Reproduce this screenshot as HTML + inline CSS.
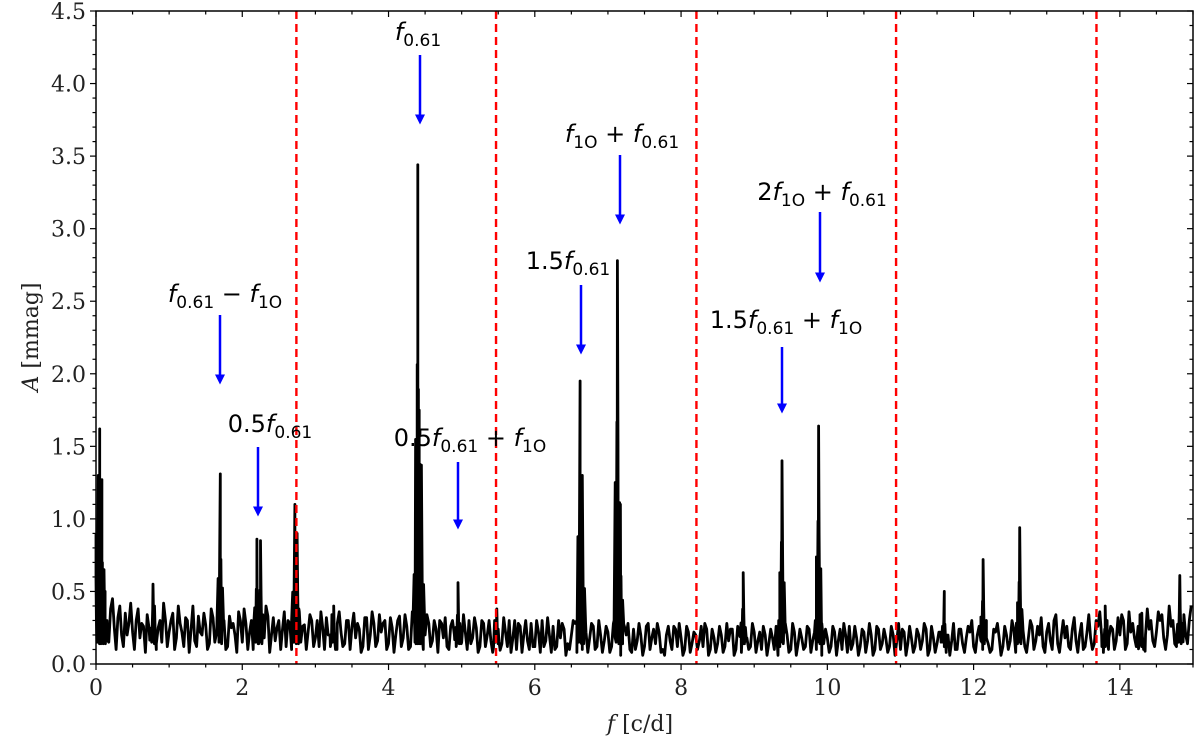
<!DOCTYPE html>
<html><head><meta charset="utf-8"><style>
body{margin:0;background:#fff;}
svg text{font-family:"DejaVu Serif","Liberation Serif",serif;}
.ann{font-family:"DejaVu Sans","Liberation Sans",sans-serif;font-size:24px;fill:#000;}
</style></head><body>
<svg id="chart" width="1200" height="739" viewBox="0 0 1200 739" xmlns="http://www.w3.org/2000/svg" style="position:absolute;left:0;top:0">
<g id="plot"></g>
</svg>
<script>
const noiseStart = 0.0;
const noiseStep = 0.05;
const noiseAmp = [0.9,0.55,0.45,0.3,0.38,0.25,0.32,0.2,0.35,0.28,0.22,0.3,0.18,0.26,0.34,0.2,0.4,0.25,0.15,0.3,
0.22,0.35,0.18,0.28,0.12,0.3,0.24,0.16,0.33,0.2,0.27,0.14,0.32,0.22,0.18,0.3,0.12,0.25,0.2,0.36,
0.15,0.28,0.22,0.1,0.3,0.26,0.18,0.33,0.2,0.16,0.3,0.24,0.12,0.28,0.34,0.2,0.15,0.27,0.22,0.3,
0.18,0.12,0.25,0.32,0.2,0.16,0.28,0.22,0.14,0.3,0.26,0.18,0.24,0.12,0.32,0.2,0.28,0.16,0.22,0.3,
0.14,0.25,0.2,0.33,0.18,0.26,0.12,0.3,0.22,0.4,0.2,0.28,0.16,0.24,0.3,0.18,0.12,0.26,0.2,0.32,
0.15,0.22,0.3,0.18,0.25,0.12,0.28,0.2,0.16,0.3,0.24,0.14,0.22,0.3,0.18,0.1,0.26,0.2,0.16,0.28,
0.12,0.22,0.3,0.16,0.2,0.26,0.12,0.18,0.24,0.14,0.2,0.28,0.16,0.1,0.22,0.18,0.26,0.12,0.2,0.16,
0.22,0.12,0.18,0.26,0.14,0.2,0.1,0.24,0.16,0.2,0.12,0.28,0.18,0.14,0.22,0.1,0.2,0.16,0.26,0.12,
0.18,0.1,0.22,0.14,0.2,0.16,0.12,0.24,0.1,0.18,0.14,0.2,0.12,0.16,0.24,0.1,0.2,0.14,0.18,0.12,
0.22,0.16,0.1,0.2,0.14,0.18,0.26,0.12,0.16,0.2,0.1,0.22,0.14,0.18,0.12,0.24,0.16,0.1,0.2,0.14,
0.18,0.12,0.22,0.16,0.1,0.2,0.26,0.14,0.18,0.12,0.22,0.16,0.2,0.1,0.24,0.14,0.18,0.12,0.2,0.16,
0.1,0.22,0.14,0.18,0.12,0.2,0.16,0.24,0.1,0.18,0.14,0.22,0.12,0.2,0.16,0.1,0.24,0.14,0.18,0.22,
0.12,0.2,0.16,0.26,0.14,0.1,0.22,0.18,0.12,0.2,0.16,0.24,0.14,0.2,0.12,0.18,0.26,0.16,0.2,0.12,
0.22,0.16,0.3,0.14,0.2,0.18,0.12,0.24,0.16,0.2,0.1,0.22,0.18,0.14,0.26,0.2,0.12,0.18,0.24,0.16,
0.2,0.3,0.14,0.22,0.18,0.26,0.12,0.2,0.24,0.16,0.22,0.3,0.18,0.2,0.26,0.14,0.22,0.28,0.2,0.3];
const noiseStart2 = 0.025;
const noiseAmp2 = [0.7,0.3,0.5,0.15,0.45,0.1,0.4,0.12,0.2,0.42,0.1,0.38,0.28,0.08,0.25,0.38,0.1,0.3,0.42,0.12,
0.3,0.1,0.4,0.22,0.32,0.08,0.4,0.12,0.22,0.35,0.1,0.38,0.15,0.3,0.4,0.1,0.33,0.28,0.08,0.3,
0.38,0.1,0.3,0.36,0.14,0.2,0.4,0.08,0.32,0.25,0.1,0.36,0.3,0.1,0.2,0.38,0.26,0.1,0.34,0.12,
0.3,0.36,0.1,0.2,0.34,0.1,0.36,0.12,0.3,0.1,0.35,0.28,0.08,0.32,0.1,0.36,0.12,0.34,0.28,0.1,
0.32,0.08,0.3,0.12,0.34,0.1,0.36,0.14,0.3,0.1,0.34,0.12,0.3,0.08,0.28,0.32,0.1,0.3,0.12,0.28,
0.34,0.1,0.14,0.32,0.08,0.3,0.12,0.3,0.08,0.26,0.1,0.32,0.12,0.08,0.3,0.28,0.08,0.3,0.1,0.12,
0.3,0.08,0.12,0.32,0.08,0.1,0.3,0.28,0.06,0.1,0.3,0.08,0.26,0.3,0.08,0.28,0.1,0.3,0.08,0.26,
0.08,0.28,0.3,0.06,0.26,0.28,0.08,0.1,0.28,0.06,0.26,0.1,0.24,0.28,0.08,0.06,0.26,0.1,0.24,0.28,
0.06,0.26,0.08,0.22,0.1,0.26,0.28,0.06,0.24,0.08,0.26,0.08,0.28,0.24,0.06,0.26,0.08,0.24,0.1,0.28,
0.08,0.22,0.26,0.06,0.24,0.1,0.06,0.26,0.22,0.08,0.28,0.06,0.24,0.1,0.26,0.08,0.22,0.28,0.06,0.24,
0.08,0.26,0.06,0.24,0.28,0.08,0.1,0.26,0.06,0.24,0.08,0.28,0.06,0.26,0.1,0.24,0.08,0.26,0.06,0.28,
0.24,0.06,0.26,0.08,0.24,0.1,0.28,0.06,0.26,0.08,0.22,0.26,0.08,0.06,0.28,0.1,0.24,0.08,0.26,0.3,
0.08,0.26,0.1,0.3,0.08,0.24,0.28,0.06,0.26,0.1,0.3,0.08,0.28,0.24,0.08,0.3,0.1,0.26,0.32,0.08,
0.28,0.1,0.34,0.08,0.3,0.26,0.1,0.32,0.08,0.28,0.12,0.34,0.1,0.3,0.36,0.08,0.3,0.26,0.1,0.32,
0.34,0.1,0.36,0.28,0.12,0.34,0.1,0.38,0.3,0.12,0.36,0.34,0.1,0.4,0.3,0.12,0.38,0.34,0.14,0.4];
const peakFreq = [0.03,0.05,0.08,0.11,0.78,1.7,2.2,2.25,2.72,2.75,3.25,4.38,4.4,4.42,4.45,4.95,5.48,6.62,6.65,7.13,7.17,8.85,9.38,9.88,11.6,12.13,12.63,13.8,14.3,14.82];
const peakAmp  = [1.3,1.62,1.27,0.65,0.55,1.31,0.86,0.85,1.1,0.9,0.4,1.37,3.44,1.75,1.37,0.56,0.38,1.95,1.3,2.78,1.1,0.63,1.4,1.64,0.5,0.72,0.94,0.4,0.35,0.61];
const vlines = [2.74,5.47,8.21,10.94,13.68];
const xTicks = [0,2,4,6,8,10,12,14];
const yTicks = [0.0,0.5,1.0,1.5,2.0,2.5,3.0,3.5,4.0,4.5];

const X0=96,X1=1193,Y0=664,Y1=11,XMAX=15,YMAX=4.5;
const xs=v=>X0+(v/XMAX)*(X1-X0);
const ys=v=>Y0-(v/YMAX)*(Y0-Y1);
const NS="http://www.w3.org/2000/svg";
const g=document.getElementById('plot');
function mk(t,a,p){const e=document.createElementNS(NS,t);for(const k in a)e.setAttribute(k,a[k]);(p||g).appendChild(e);return e;}

let pts=[];
noiseAmp.forEach((a,i)=>pts.push([noiseStart+i*noiseStep,a]));
noiseAmp2.forEach((a,i)=>pts.push([noiseStart2+i*noiseStep,a]));
peakFreq.forEach((f,i)=>{const a=peakAmp[i];
 pts.push([f-0.045,Math.min(0.3,a*0.3)]);pts.push([f-0.03,a*0.45]);pts.push([f-0.018,0.15]);
 pts.push([f-0.008,a*0.6]);pts.push([f,a]);pts.push([f+0.008,a*0.55]);
 pts.push([f+0.018,0.14]);pts.push([f+0.03,a*0.4]);pts.push([f+0.045,Math.min(0.28,a*0.25)]);});
pts.sort((a,b)=>a[0]-b[0]);
const line=mk('polyline',{points:pts.filter(p=>p[0]>=0&&p[0]<=15).map(p=>xs(p[0]).toFixed(1)+','+ys(p[1]).toFixed(1)).join(' '),fill:'none',stroke:'#000','stroke-width':2.8,'stroke-linejoin':'round'});



vlines.forEach(v=>{const l=mk('line',{x1:xs(v),x2:xs(v),y1:Y1,y2:Y0,stroke:'#f00','stroke-width':2.4,'stroke-dasharray':'8,5'});

});

const fr=mk('rect',{x:X0,y:Y1,width:X1-X0,height:Y0-Y1,fill:'none',stroke:'#000','stroke-width':1.5});



for(let v=0;v<=15.001;v+=0.5){const major=Math.abs(v/2-Math.round(v/2))<1e-6;const L=major?6:3.5;const x=xs(v);
mk('line',{x1:x,x2:x,y1:Y0,y2:Y0+L,stroke:'#000','stroke-width':1.2});
mk('line',{x1:x,x2:x,y1:Y1,y2:Y1+L,stroke:'#000','stroke-width':1.2});}
for(let i=0;i<=45;i++){const v=i/10;const major=i%5===0;const L=major?6:3.5;const y=ys(v);
mk('line',{x1:X0-L,x2:X0,y1:y,y2:y,stroke:'#000','stroke-width':1.2});
mk('line',{x1:X1-L,x2:X1,y1:y,y2:y,stroke:'#000','stroke-width':1.2});}
xTicks.forEach(v=>{const t=mk('text',{x:xs(v),y:Y0+31,'text-anchor':'middle','font-size':22,fill:'#222'});t.textContent=v;

});
yTicks.forEach(v=>{const t=mk('text',{x:X0-10,y:ys(v)+8,'text-anchor':'end','font-size':22,fill:'#222'});t.textContent=v.toFixed(1);

});
</script>
<svg style="position:absolute;left:0;top:0" width="1200" height="739" xmlns="http://www.w3.org/2000/svg">
<defs><marker id="ah" markerWidth="4" markerHeight="4" refX="2.2" refY="2" orient="auto"><path d="M0,0 L4,2 L0,4 z" fill="#00f"/></marker></defs>
<text x="640" y="731" text-anchor="middle" font-size="22" fill="#222"><tspan font-style="italic">f</tspan> [c/d]</text>
<text transform="translate(38,337) rotate(-90)" text-anchor="middle" font-size="22" fill="#222"><tspan font-style="italic">A</tspan> [mmag]</text>
<g stroke="#00f" stroke-width="2.5" marker-end="url(#ah)">
<line x1="220" y1="315" x2="220" y2="380"/><line x1="258" y1="447" x2="258" y2="512"/>
<line x1="420" y1="55" x2="420" y2="120"/><line x1="458" y1="462" x2="458" y2="525"/>
<line x1="581" y1="285" x2="581" y2="350"/><line x1="620" y1="155" x2="620" y2="220"/>
<line x1="820" y1="212" x2="820" y2="278"/><line x1="782" y1="347" x2="782" y2="409"/>
</g>
<text class="ann" x="225" y="302" text-anchor="middle"><tspan font-style="italic">f</tspan><tspan font-size="17" dy="6">0.61</tspan><tspan dy="-6"> − </tspan><tspan font-style="italic">f</tspan><tspan font-size="17" dy="6">1O</tspan></text>
<text class="ann" x="270" y="432" text-anchor="middle">0.5<tspan font-style="italic">f</tspan><tspan font-size="17" dy="6">0.61</tspan></text>
<text class="ann" x="418" y="40" text-anchor="middle"><tspan font-style="italic">f</tspan><tspan font-size="17" dy="6">0.61</tspan></text>
<text class="ann" x="470" y="446" text-anchor="middle">0.5<tspan font-style="italic">f</tspan><tspan font-size="17" dy="6">0.61</tspan><tspan dy="-6"> + </tspan><tspan font-style="italic">f</tspan><tspan font-size="17" dy="6">1O</tspan></text>
<text class="ann" x="568" y="269" text-anchor="middle">1.5<tspan font-style="italic">f</tspan><tspan font-size="17" dy="6">0.61</tspan></text>
<text class="ann" x="622" y="142" text-anchor="middle"><tspan font-style="italic">f</tspan><tspan font-size="17" dy="6">1O</tspan><tspan dy="-6"> + </tspan><tspan font-style="italic">f</tspan><tspan font-size="17" dy="6">0.61</tspan></text>
<text class="ann" x="822" y="200" text-anchor="middle">2<tspan font-style="italic">f</tspan><tspan font-size="17" dy="6">1O</tspan><tspan dy="-6"> + </tspan><tspan font-style="italic">f</tspan><tspan font-size="17" dy="6">0.61</tspan></text>
<text class="ann" x="786" y="328" text-anchor="middle">1.5<tspan font-style="italic">f</tspan><tspan font-size="17" dy="6">0.61</tspan><tspan dy="-6"> + </tspan><tspan font-style="italic">f</tspan><tspan font-size="17" dy="6">1O</tspan></text>
</svg>
</body></html>
